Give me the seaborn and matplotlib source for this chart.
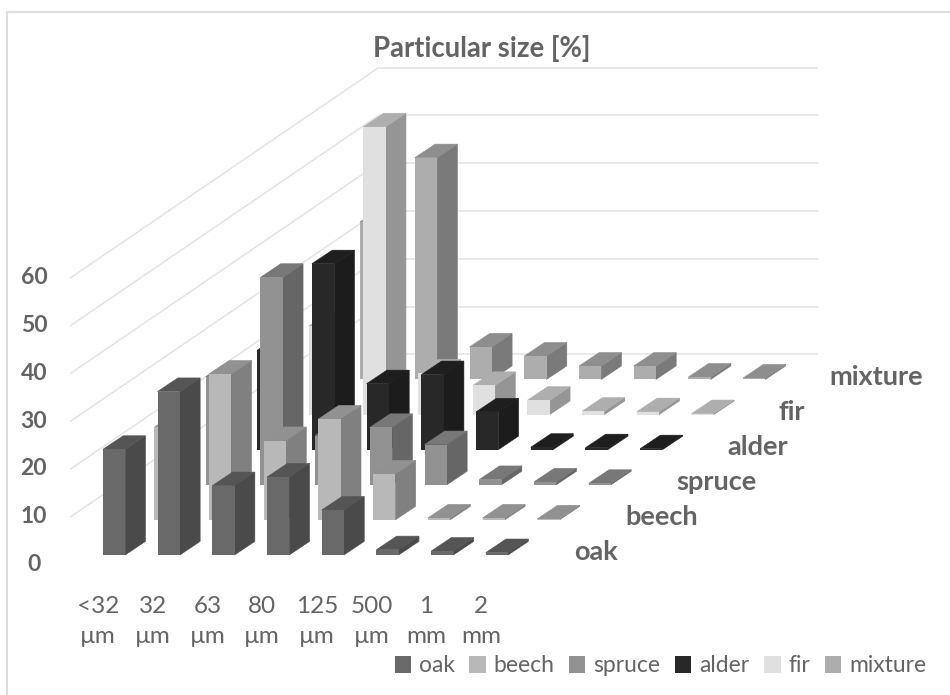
import matplotlib
matplotlib.use("Agg")
import matplotlib.pyplot as plt
import numpy as np
import pandas as pd
import seaborn as sns
from matplotlib.patches import Polygon, Patch, Rectangle

categories = ["<32\nµm", "32\nµm", "63\nµm", "80\nµm", "125\nµm", "500\nµm", "1\nmm", "2\nmm"]
oak = [22.1, 34.2, 14.5, 16.3, 9.4, 1.1, 0.8, 0.5]
beech = [19.4, 30.5, 16.6, 21.1, 9.6, 0.4, 0.4, 0.2]
spruce = [22.6, 43.4, 10.3, 12.0, 8.4, 1.1, 0.6, 0.3]
alder = [20.8, 38.9, 13.8, 15.7, 7.9, 0.5, 0.4, 0.2]
fir = [18.5, 60.2, 8.7, 6.1, 3.0, 0.7, 0.6, 0.2]
mixture = [33.0, 46.4, 6.8, 4.9, 2.8, 2.8, 0.5, 0.3]
series_names = ["oak", "beech", "spruce", "alder", "fir", "mixture"]
series_values = [oak, beech, spruce, alder, fir, mixture]
y_ticks = [0, 10, 20, 30, 40, 50, 60]

front_colors = ["#696969", "#b8b8b8", "#929292", "#282828", "#e0e0e0", "#adadad"]
side_colors = ["#4a4a4a", "#808080", "#666666", "#1c1c1c", "#959595", "#7a7a7a"]
top_colors = ["#555555", "#919191", "#787878", "#1e1e1e", "#aeaeae", "#8e8e8e"]

# Oblique projection scales (pixels per unit)
PX_CAT, PX_VAL = 54.7, 4.78
X0_PX, Y0_PX = 114.0, 555.0
W, H = 950, 695
BAR_W = 22.3 / PX_CAT
STEP_X, STEP_Y = 51.45 / PX_CAT, 35.1 / PX_VAL
DEPTH_X, DEPTH_Y = 20.3 / PX_CAT, 13.6 / PX_VAL
WALL_X = (70 - X0_PX) / PX_CAT
WALL_Y = (Y0_PX - 565) / PX_VAL
BACK_X = 439 / PX_CAT

sns.set_theme(style="white", rc={"font.family": ["Lato", "DejaVu Sans"]})
TEXT = "#646464"
GRID = "#e3e3e3"

fig = plt.figure(figsize=(W / 100, H / 100), dpi=100)
ax = fig.add_axes([0, 0, 1, 1])
ax.set_axis_off()

# Walls
for t in y_ticks:
    x_c = WALL_X + 6 * STEP_X
    y_c = WALL_Y + 6 * STEP_Y + t
    if t > 0:
        ax.plot([WALL_X, x_c], [WALL_Y + t, y_c], color=GRID, lw=1.1, solid_capstyle="butt", zorder=0.5)
    ax.plot([x_c, x_c + BACK_X], [y_c, y_c], color=GRID, lw=1.1, solid_capstyle="butt", zorder=0.5)
    ax.text(WALL_X - 0.66, WALL_Y + t + 0.1, str(t), ha="center", va="center",
            fontsize=16.5, fontweight="bold", color=TEXT)

# Bars, back series first
xpos = np.arange(len(categories))
for j in range(len(series_names) - 1, -1, -1):
    vals = np.asarray(series_values[j], dtype=float)
    xs = xpos + j * STEP_X
    base = j * STEP_Y
    for x, v in zip(xs, vals):
        l, r = x - BAR_W / 2, x + BAR_W / 2
        ax.add_patch(Polygon([(r, base), (r + DEPTH_X, base + DEPTH_Y),
                              (r + DEPTH_X, base + DEPTH_Y + v), (r, base + v)],
                             closed=True, facecolor=side_colors[j], edgecolor=side_colors[j], lw=0.4))
        ax.add_patch(Polygon([(l, base + v), (r, base + v),
                              (r + DEPTH_X, base + v + DEPTH_Y), (l + DEPTH_X, base + v + DEPTH_Y)],
                             closed=True, facecolor=top_colors[j], edgecolor=top_colors[j], lw=0.4))
    df = pd.DataFrame({"x": xs, "v": vals})
    sns.barplot(data=df, x="x", y="v", native_scale=True, width=BAR_W, color=front_colors[j],
                saturation=1, bottom=base, ax=ax, linewidth=0)
    # series depth label
    ax.text(xs[-1] + DEPTH_X + 1.046 - 0.009 * j, base + 0.6, series_names[j], ha="left", va="center",
            fontsize=19.5, fontweight="bold", color=TEXT)

ax.set_xlim(-X0_PX / PX_CAT, (W - X0_PX) / PX_CAT)
ax.set_ylim((Y0_PX - H) / PX_VAL, Y0_PX / PX_VAL)
ax.set_axis_off()

# Category labels
for x, lab in zip(xpos, categories):
    top, bottom = lab.split("\n")
    ax.text(x - 0.29, -10.7, top, ha="center", va="center", fontsize=17.5, color=TEXT)
    ax.text(x - 0.29, -17.0, bottom, ha="center", va="center", fontsize=17.5, color=TEXT)

fig.text(482 / W, 1 - 48 / H, "Particular size [%]", ha="center", va="center",
         fontsize=19.8, fontweight="bold", color=TEXT)

handles = [Patch(facecolor=c, edgecolor="none", label=n) for c, n in zip(front_colors, series_names)]
leg = fig.legend(handles=handles, loc="center right", bbox_to_anchor=(947 / W, 1 - 666 / H), ncol=6,
                 frameon=False, fontsize=16.5, handlelength=0.7, handleheight=0.7, handletextpad=0.35,
                 columnspacing=0.65, labelcolor=TEXT)

# Clip the legend's lower part and draw the chart border
fig.add_artist(Rectangle((0, 0), 1, (H - 672) / H, transform=fig.transFigure, facecolor="white",
                         edgecolor="none", zorder=5))
fig.add_artist(plt.Line2D([7 / W, 7 / W, 1], [0, 1 - 12 / H, 1 - 12 / H],
                          color="#dcdcdc", lw=1.5, zorder=6))

fig.savefig("out.png", dpi=100)
